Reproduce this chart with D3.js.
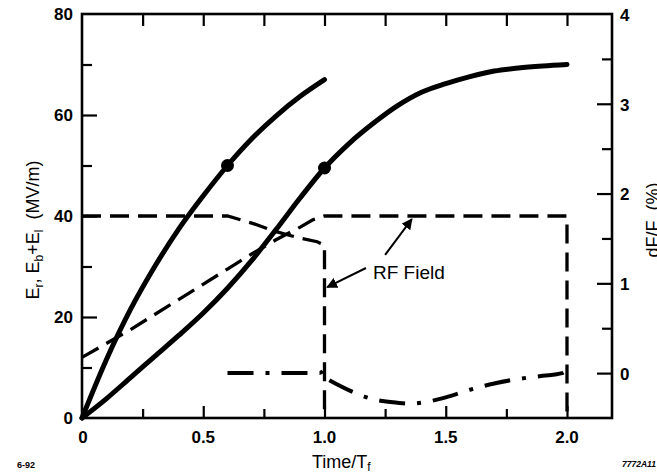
<!DOCTYPE html>
<html><head><meta charset="utf-8">
<script src="https://cdn.jsdelivr.net/npm/d3@7/dist/d3.min.js"></script>
<style>
body{margin:0;background:#fff;}
svg{display:block;font-family:"Liberation Sans",Arial,Helvetica,sans-serif;}
</style></head>
<body><svg id="c" width="657" height="474"></svg>
<script>
// ---- data ----
const curveFastT = [0,0.1,0.2,0.3,0.4,0.5,0.6,0.7,0.8,0.9,1.0];
const curveFastE = [0,11.5,21.5,30,37.5,44,50,55.3,59.8,63.7,67];
const curveSlowT = [0,0.1,0.2,0.3,0.4,0.5,0.6,0.7,0.8,0.9,1.0,1.1,1.2,1.3,1.4,1.5,1.6,1.7,1.8,1.9,2.0];
const curveSlowE = [0,3.8,8,12.2,16.4,20.8,25.7,31.2,37.3,43.6,49.5,54.3,58.3,61.8,64.5,66.2,67.6,68.7,69.3,69.7,70];
const markerT = [0.6,1.0];
const markerE = [50,49.5];
const rfDropT = [0,0.6,0.7,0.8,0.9,0.97,1.0,1.0];
const rfDropE = [40,40,38.6,36.9,35.6,34.9,34.2,0];
const rfRiseT = [0,0.2,0.4,0.6,0.7,0.8,0.9,0.95,1.0,2.0,2.0];
const rfRiseE = [12,17.5,23.5,29.5,32.5,35.3,37.8,39.2,40,40,0];
const dfFlatT = [0.6,0.8,0.98,1.0];
const dfFlatV = [0,0,0,0.05];
const dfDipT = [1.02,1.1,1.2,1.3,1.35,1.4,1.5,1.6,1.7,1.8,1.9,1.98,2.0];
const dfDipV = [-0.08,-0.19,-0.29,-0.33,-0.34,-0.33,-0.27,-0.185,-0.115,-0.065,-0.03,0,0.04];
const xTickLabels = ["0","0.5","1.0","1.5","2.0"];
const xTickValues = [0,0.5,1.0,1.5,2.0];
const yLeftTicks = [0,20,40,60,80];
const yRightTicks = [0,1,2,3,4];
const annotationText = "RF Field";

// ---- scales ----
const svg = d3.select("#c");
const x = d3.scaleLinear().domain([0,2.1856]).range([82,612]);
const yL = d3.scaleLinear().domain([0,80]).range([418,14]);
const yR = d3.scaleLinear().domain([-0.5,4]).range([418,14]);

const zip = (a,b)=>a.map((v,i)=>[v,b[i]]);
const lineL = d3.line().x(d=>x(d[0])).y(d=>yL(d[1]));
const lineLc = d3.line().x(d=>x(d[0])).y(d=>yL(d[1])).curve(d3.curveMonotoneX);
const lineRc = d3.line().x(d=>x(d[0])).y(d=>yR(d[1])).curve(d3.curveMonotoneX);

// ---- axes (ticks inward) ----
const g = svg.append("g");
function axis(gen, tr){ const a=g.append("g").attr("transform",tr).call(gen);
  a.selectAll("text").remove(); a.select(".domain").remove();
  a.selectAll("line").attr("stroke","#000").attr("stroke-width",2.2); }
axis(d3.axisLeft(yL).tickValues([10,30,50,70]).tickSize(-10),"translate(82,0)");
axis(d3.axisLeft(yL).tickValues([20,40,60]).tickSize(-15),"translate(82,0)");
axis(d3.axisRight(yR).tickValues([0.5,1.5,2.5,3.5]).tickSize(-10),"translate(612,0)");
axis(d3.axisRight(yR).tickValues([0,1,2,3]).tickSize(-15),"translate(612,0)");
axis(d3.axisBottom(x).tickValues([0.25,0.75,1.25,1.75]).tickSize(-9),"translate(0,418)");
axis(d3.axisBottom(x).tickValues([0.5,1.0,1.5,2.0]).tickSize(-12),"translate(0,418)");
axis(d3.axisTop(x).tickValues([0.25,0.5,0.75,1.0,1.25,1.5,1.75,2.0]).tickSize(-12),"translate(0,14)");

// frame
svg.append("rect").attr("x",x(0)).attr("y",yL(80)).attr("width",x(2.1856)-x(0)).attr("height",yL(0)-yL(80))
  .attr("fill","none").attr("stroke","#000").attr("stroke-width",2.6);

// tick labels
const tl = svg.append("g").attr("font-size",17).attr("font-weight","bold").attr("fill","#000");
tl.selectAll(".yl").data(yLeftTicks).join("text").attr("x",73).attr("y",d=>yL(d)).attr("dy","0.36em")
  .attr("text-anchor","end").text(d=>d);
tl.selectAll(".yr").data(yRightTicks).join("text").attr("x",620).attr("y",d=>yR(d)).attr("dy","0.4em")
  .attr("text-anchor","start").text(d=>d);
tl.selectAll(".xl").data(xTickValues).join("text").attr("x",(d)=>x(d)+(d===0?1:0)).attr("y",443)
  .attr("text-anchor","middle").text((d,i)=>xTickLabels[i]);

// ---- data marks ----
svg.append("path").datum(zip(curveFastT,curveFastE)).attr("d",lineLc)
  .attr("fill","none").attr("stroke","#000").attr("stroke-width",5).attr("stroke-linecap","round");
svg.append("path").datum(zip(curveSlowT,curveSlowE)).attr("d",lineLc)
  .attr("fill","none").attr("stroke","#000").attr("stroke-width",5).attr("stroke-linecap","round");
svg.selectAll(".mk").data(zip(markerT,markerE)).join("circle")
  .attr("cx",d=>x(d[0])).attr("cy",d=>yL(d[1])).attr("r",6.5).attr("fill","#000");

svg.append("path").datum(zip(rfDropT,rfDropE)).attr("d",lineL)
  .attr("fill","none").attr("stroke","#000").attr("stroke-width",3.3).attr("stroke-dasharray","19,9");
svg.append("path").datum(zip(rfRiseT,rfRiseE)).attr("d",lineL)
  .attr("fill","none").attr("stroke","#000").attr("stroke-width",3.3).attr("stroke-dasharray","19,9");

svg.append("path").datum(zip(dfFlatT,dfFlatV)).attr("d",lineRc)
  .attr("fill","none").attr("stroke","#000").attr("stroke-width",4).attr("stroke-dasharray","26,12,4,12");
svg.append("path").datum(zip(dfDipT,dfDipV)).attr("d",lineRc)
  .attr("fill","none").attr("stroke","#000").attr("stroke-width",4).attr("stroke-dasharray","26,12,4,12");

// ---- annotation ----
const arrows = [[[1.25,32.3],[1.36,39.4]],[[1.171,29.7],[1.011,25.9]]];
svg.append("defs").append("marker").attr("id","ah").attr("viewBox","0 0 10 10").attr("refX",9).attr("refY",5)
  .attr("markerWidth",11).attr("markerHeight",11).attr("markerUnits","userSpaceOnUse").attr("orient","auto")
  .append("path").attr("d","M0,0 L10,5 L0,10 Z").attr("fill","#000");
svg.selectAll(".ar").data(arrows).join("line")
  .attr("x1",d=>x(d[0][0])).attr("y1",d=>yL(d[0][1])).attr("x2",d=>x(d[1][0])).attr("y2",d=>yL(d[1][1]))
  .attr("stroke","#000").attr("stroke-width",2).attr("marker-end","url(#ah)");
svg.append("text").attr("x",x(1.2)).attr("y",yL(27.5)).attr("font-size",19).text(annotationText);

// ---- axis titles ----
const lt = svg.append("text").attr("transform","translate(39,230) rotate(-90)").attr("text-anchor","middle").attr("font-size",18);
lt.append("tspan").text("E");
lt.append("tspan").attr("font-size",12).attr("dy",4).text("r");
lt.append("tspan").attr("dy",-4).text(", E");
lt.append("tspan").attr("font-size",12).attr("dy",4).text("b");
lt.append("tspan").attr("dy",-4).text("+E");
lt.append("tspan").attr("font-size",12).attr("dy",4).text("l");
lt.append("tspan").attr("dy",-4).text("\u00A0\u00A0(MV/m)");

svg.append("text").attr("transform","translate(659,220) rotate(-90)").attr("text-anchor","middle")
  .attr("font-size",18).text("dF/F\u00A0\u00A0(%)");

const bt = svg.append("text").attr("x",312).attr("y",468).attr("font-size",18);
bt.append("tspan").text("Time/T");
bt.append("tspan").attr("font-size",12).attr("dy",3).text("f");

svg.append("text").attr("x",17).attr("y",468).attr("font-size",9).attr("font-weight","bold").text("6-92");
svg.append("text").attr("x",622).attr("y",467).attr("font-size",8.5).attr("font-weight","bold")
  .attr("font-style","italic").text("7772A11");
</script></body></html>
